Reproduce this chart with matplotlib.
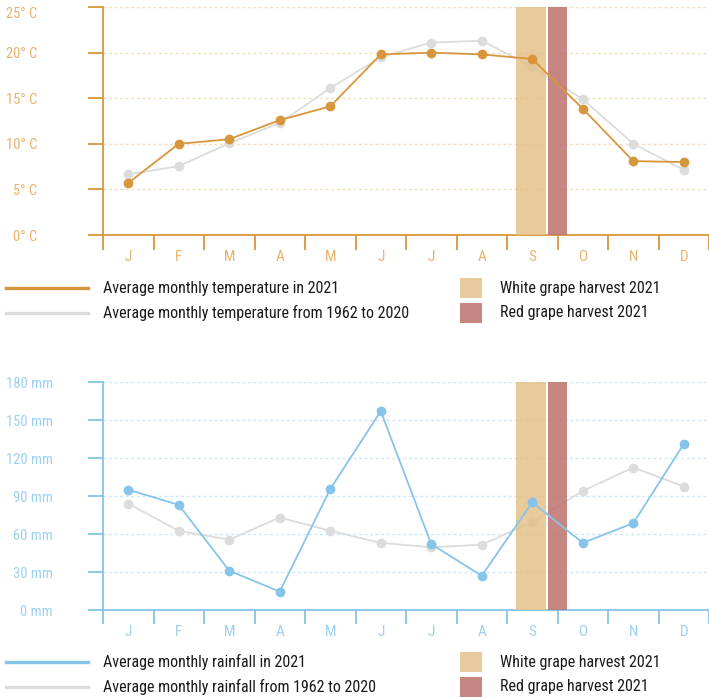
import matplotlib
matplotlib.use("Agg")
import matplotlib.pyplot as plt
from matplotlib.lines import Line2D
from matplotlib.patches import Rectangle
from matplotlib import font_manager
from matplotlib.font_manager import FontProperties

months = ["J", "F", "M", "A", "M", "J", "J", "A", "S", "O", "N", "D"]
temp_2021 = [5.7, 10.0, 10.5, 12.6, 14.1, 19.8, 20.0, 19.8, 19.3, 13.85, 8.1, 8.0]
temp_avg = [6.65, 7.55, 10.05, 12.3, 16.1, 19.5, 21.1, 21.3, 18.45, 14.9, 10.0, 7.15]
rain_2021 = [95, 83, 31, 14.5, 95.5, 157, 52, 27, 85, 53, 68.5, 131]
rain_avg = [84, 62.5, 55.5, 73, 62.5, 53, 49.5, 51.5, 69.5, 94, 112.5, 97.5]
temp_ticks = [0, 5, 10, 15, 20, 25]
temp_labels = ["0° C", "5° C", "10° C", "15° C", "20° C", "25° C"]
rain_ticks = [0, 30, 60, 90, 120, 150, 180]
rain_labels = ["0 mm", "30 mm", "60 mm", "90 mm", "120 mm", "150 mm", "180 mm"]
# harvest periods in month-index units (J = 0)
white_harvest = (7.67, 8.28)
red_harvest = (8.32, 8.68)

legend_temp = ["Average monthly temperature in 2021", "Average monthly temperature from 1962 to 2020"]
legend_rain = ["Average monthly rainfall in 2021", "Average monthly rainfall from 1962 to 2020"]
legend_harvest = ["White grape harvest 2021", "Red grape harvest 2021"]

# ---- pick a condensed font if one is installed ----
prefs = ["Roboto Condensed", "Open Sans Condensed", "Liberation Sans Narrow",
         "Noto Sans", "DejaVu Sans", "Open Sans", "Roboto", "Lato", "Inter"]
best = None
for f in font_manager.fontManager.ttflist:
    nm = f.name
    st = str(f.stretch).lower()
    cond = ("condensed" in nm.lower() or "narrow" in nm.lower() or
            st in ("condensed", "semi-condensed", "extra-condensed", "ultra-condensed") or
            (isinstance(f.stretch, int) and f.stretch < 500) or
            "condensed" in f.fname.lower() or "narrow" in f.fname.lower())
    if not cond:
        continue
    if f.style != "normal":
        continue
    w = f.weight if isinstance(f.weight, int) else {"normal": 400, "regular": 400, "book": 400}.get(str(f.weight).lower(), 700)
    if w > 450 or w < 350:
        continue
    rank = prefs.index(nm) if nm in prefs else len(prefs)
    if "semi" in f.fname.lower() or "extra" in f.fname.lower():
        rank += 0.5
    if best is None or rank < best[0]:
        best = (rank, f.fname)

if best is not None:
    BASE = FontProperties(fname=best[1])
else:
    BASE = FontProperties(family="Liberation Sans")

ORANGE = "#D8963C"
ORANGE_LT = "#E6B36C"
ORANGE_GRID = "#F3DDBB"
BLUE = "#86C4EA"
BLUE_LT = "#9CD0F0"
BLUE_GRID = "#CBE6F7"
GRAY = "#DCDCDC"
WHITE_H = "#E4C18A"
RED_H = "#BC726D"
TEXT = "#1a1a1a"

W, H = 709, 699
fig = plt.figure(figsize=(W / 100, H / 100), dpi=100)
renderer = fig.canvas.get_renderer()


def fit_size(s, target_px, ref=12.0):
    fp = BASE.copy()
    fp.set_size(ref)
    t = fig.text(0, 0, s, fontproperties=fp)
    w = t.get_window_extent(renderer).width
    t.remove()
    return ref * target_px / w


LEG_SIZE = 0.5 * (fit_size("White grape harvest 2021", 155) +
                  fit_size("Average monthly temperature from 1962 to 2020", 316))
TICK_SIZE = fit_size("180 mm", 46.5)


def fp_of(size):
    fp = BASE.copy()
    fp.set_size(size)
    return fp


def px_axes(left, top, right, bottom):
    return fig.add_axes([left / W, 1 - bottom / H, (right - left) / W, (bottom - top) / H])


def style_axes(ax, color, labcolor, gridcolor, ticks, labels, ymax, ylabpad, xsep_len):
    x = list(range(len(months)))
    ax.set_xlim(-0.5, 11.5)
    ax.set_ylim(0, ymax)
    for s in ["top", "right"]:
        ax.spines[s].set_visible(False)
    for s in ["left", "bottom"]:
        ax.spines[s].set_color(color)
        ax.spines[s].set_linewidth(1.3)
    ax.set_yticks(ticks)
    ax.set_yticklabels(labels, fontproperties=fp_of(TICK_SIZE))
    ax.tick_params(axis="y", direction="out", length=10.8, width=1.3, color=color,
                   labelcolor=labcolor, pad=ylabpad)
    ax.set_xticks(x)
    ax.set_xticklabels(months, fontproperties=fp_of(TICK_SIZE * 1.05))
    ax.set_xticks([i - 0.5 for i in range(len(months) + 1)], minor=True)
    ax.tick_params(axis="x", which="major", length=0, labelcolor=labcolor, pad=11)
    ax.tick_params(axis="x", which="minor", direction="out", length=xsep_len, width=1.3, color=color)
    for t in ticks[1:]:
        ax.axhline(t, color=gridcolor, lw=1.0, ls=(0, (2, 2)), zorder=0)


xs = list(range(12))

# ---------- Temperature ----------
ax1 = px_axes(103, 7, 709, 235)
style_axes(ax1, ORANGE, ORANGE_LT, ORANGE_GRID, temp_ticks, temp_labels, 25, 36.7, 10.8)
ax1.plot(xs, temp_avg, color=GRAY, lw=1.3, zorder=2)
ax1.plot(xs, temp_avg, ls="none", marker="o", ms=6, color=GRAY, zorder=2)
ax1.axvspan(*white_harvest, color=WHITE_H, alpha=0.85, lw=0, zorder=3)
ax1.axvspan(*red_harvest, color=RED_H, alpha=0.85, lw=0, zorder=3)
ax1.plot(xs, temp_2021, color=ORANGE, lw=1.3, zorder=4)
ax1.plot(xs, temp_2021, ls="none", marker="o", ms=6, color=ORANGE, zorder=5)
ax1.get_yticklabels()[-1].set_verticalalignment("top")

# ---------- Rainfall ----------
ax2 = px_axes(103, 382, 709, 610)
style_axes(ax2, BLUE, BLUE_LT, BLUE_GRID, rain_ticks, rain_labels, 180, 25.2, 10)
ax2.plot(xs, rain_avg, color=GRAY, lw=1.3, zorder=2)
ax2.plot(xs, rain_avg, ls="none", marker="o", ms=6, color=GRAY, zorder=2)
ax2.axvspan(*white_harvest, color=WHITE_H, alpha=0.85, lw=0, zorder=3)
ax2.axvspan(*red_harvest, color=RED_H, alpha=0.85, lw=0, zorder=3)
ax2.plot(xs, rain_2021, color=BLUE, lw=1.3, zorder=4)
ax2.plot(xs, rain_2021, ls="none", marker="o", ms=6, color=BLUE, zorder=5)


# ---------- Legends ----------
def fy(y):
    return 1 - y / H


def legend_block(y1, y2, c1, texts):
    for y, c, t in [(y1, c1, texts[0]), (y2, GRAY, texts[1])]:
        fig.add_artist(Line2D([6 / W, 88 / W], [fy(y), fy(y)], color=c, lw=2.4,
                              transform=fig.transFigure))
        fig.text(103 / W, fy(y), t, ha="left", va="center", fontproperties=fp_of(LEG_SIZE), color=TEXT)
    for y, c, t in [(y1, "#E8CA9C", legend_harvest[0]), (y2, "#C68783", legend_harvest[1])]:
        fig.add_artist(Rectangle((460 / W, fy(y + 10)), 22 / W, 20 / H, color=c,
                                 transform=fig.transFigure, lw=0))
        fig.text(500 / W, fy(y), t, ha="left", va="center", fontproperties=fp_of(LEG_SIZE), color=TEXT)


legend_block(288, 313, ORANGE, legend_temp)
legend_block(662, 687, BLUE, legend_rain)

fig.savefig("out.png", dpi=100)
